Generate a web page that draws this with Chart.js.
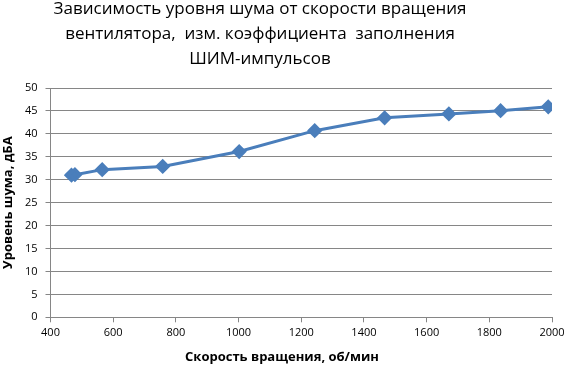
<!DOCTYPE html>
<html>
<head>
<meta charset="utf-8">
<script src="https://cdn.jsdelivr.net/npm/chart.js@4/dist/chart.umd.min.js"></script>
<style>
  html, body { margin: 0; padding: 0; background: #fff; }
  #wrap { width: 565px; height: 368px; }
</style>
</head>
<body>
<div id="wrap"><canvas id="chart" width="565" height="368"></canvas></div>
<script>
// data
var speeds = [467, 478, 565, 758, 1002, 1243, 1466, 1671, 1836, 1988];
var noise  = [31.0, 31.1, 32.2, 32.9, 36.15, 40.7, 43.5, 44.35, 45.05, 45.9];

var titleLines = [
  'Зависимость уровня шума от скорости вращения',
  'вентилятора,  изм. коэффициента  заполнения',
  'ШИМ-импульсов'
];
var xTitle = 'Скорость вращения, об/мин';
var yTitle = 'Уровень шума, дБА';

var lineColor = '#4a7ebb';
var gridColor = '#868686';

var points = speeds.map(function (s, i) { return { x: s, y: noise[i] }; });

// title texts drawn on the canvas
var titlesPlugin = {
  id: 'titles',
  afterDraw: function (chart) {
    var ctx = chart.ctx;
    ctx.save();
    ctx.fillStyle = '#000';
    ctx.textAlign = 'center';
    ctx.textBaseline = 'alphabetic';
    ctx.font = '17px "Open Sans"';
    titleLines.forEach(function (t, i) {
      ctx.fillText(t, 260, 14 + i * 25);
    });
    ctx.font = 'bold 13px "Open Sans"';
    ctx.textBaseline = 'middle';
    ctx.fillText(xTitle, 282, 357);
    ctx.restore();
  }
};

new Chart(document.getElementById('chart'), {
  type: 'scatter',
  data: {
    datasets: [{
      data: points,
      showLine: true,
      borderColor: lineColor,
      backgroundColor: lineColor,
      borderWidth: 3,
      tension: 0,
      pointStyle: 'rectRot',
      pointRadius: 5.5,
      pointHoverRadius: 5.5
    }]
  },
  options: {
    responsive: false,
    animation: false,
    layout: { padding: { top: 88, right: 13, left: 0, bottom: 0 } },
    plugins: {
      legend: { display: false },
      tooltip: { enabled: false }
    },
    scales: {
      x: {
        type: 'linear',
        min: 400,
        max: 2000,
        afterFit: function (s) { s.height = 50.7; s.paddingRight = 0; },
        ticks: {
          stepSize: 200,
          color: '#000',
          font: { family: 'Open Sans', size: 11 },
          padding: 4,
          maxRotation: 0,
          callback: function (v) { return String(v); }
        },
        grid: { drawOnChartArea: false, color: gridColor, tickLength: 5 },
        border: { color: gridColor, width: 1 }
      },
      y: {
        min: 0,
        max: 50,
        afterFit: function (s) { s.width = 50.5; },
        ticks: {
          stepSize: 5,
          color: '#000',
          font: { family: 'Open Sans', size: 11 },
          padding: 8
        },
        grid: { color: gridColor, tickLength: 5 },
        border: { color: gridColor, width: 1 },
        title: {
          display: true,
          text: yTitle,
          color: '#000',
          font: { family: 'Open Sans', size: 13, weight: 'bold' },
          padding: { top: 0, bottom: 0 }
        }
      }
    }
  },
  plugins: [titlesPlugin]
});
</script>
</body>
</html>
